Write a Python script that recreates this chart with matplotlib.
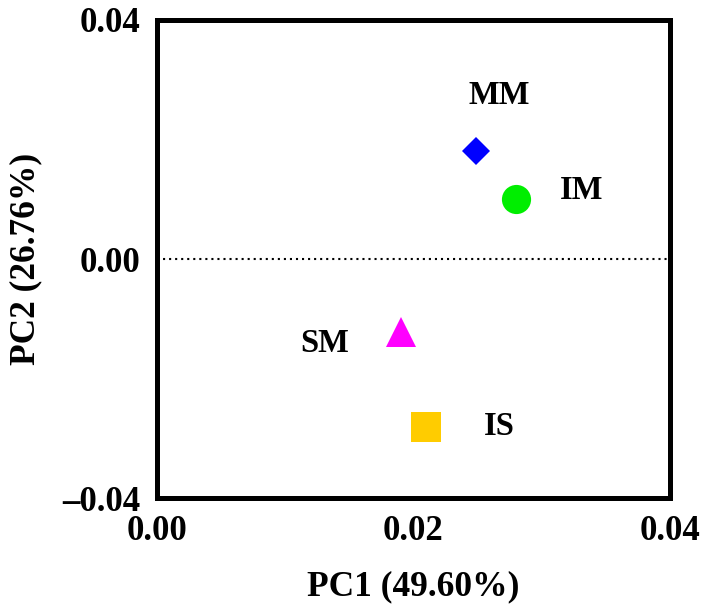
import matplotlib
matplotlib.use("Agg")
import matplotlib.pyplot as plt

groups = ["MM", "IM", "SM", "IS"]
pc1 = [0.0249, 0.0280, 0.0190, 0.0210]
pc2 = [0.0180, 0.0100, -0.0122, -0.0281]
markers = ["D", "o", "^", "s"]
colors = ["#0000FF", "#00EE00", "#FF00FF", "#FFCC00"]
sizes = [14, 21, 21, 21]
label_x = [0.0267, 0.0331, 0.0131, 0.0267]
label_y = [0.0273, 0.0115, -0.0142, -0.0280]
xticks = [0.00, 0.02, 0.04]
yticks = [-0.04, 0.00, 0.04]
xtick_labels = ["0.00", "0.02", "0.04"]
ytick_labels = ["\u20130.04", "0.00", "0.04"]

plt.rcParams['font.family'] = ['Liberation Serif', 'DejaVu Serif']
plt.rcParams['font.weight'] = 'bold'

fig = plt.figure(figsize=(7.09, 6.06), dpi=100)
ax = fig.add_axes([0.2214, 0.1782, 0.7236, 0.7888])

ax.axhline(0, color='black', lw=1.5, linestyle=(0, (1, 1.9)), zorder=1)

for x, y, m, c, s in zip(pc1, pc2, markers, colors, sizes):
    ax.plot([x], [y], marker=m, color=c, markersize=s, linestyle='none',
            markeredgewidth=0, zorder=3)

for g, tx, ty in zip(groups, label_x, label_y):
    ax.text(tx, ty, g, ha='center', va='center', fontsize=23.5, fontweight='bold')

ax.set_xlim(0, 0.04)
ax.set_ylim(-0.04, 0.04)
ax.set_xticks(xticks)
ax.set_xticklabels(xtick_labels)
ax.set_yticks(yticks)
ax.set_yticklabels(ytick_labels)
ax.tick_params(length=0, pad=12, labelsize=25)
for lab in ax.get_xticklabels() + ax.get_yticklabels():
    lab.set_fontweight('bold')

for sp in ax.spines.values():
    sp.set_linewidth(3.6)

ax.set_xlabel("PC1 (49.60%)", fontsize=25.5, fontweight='bold', labelpad=16)
ax.set_ylabel("PC2 (26.76%)", fontsize=25.5, fontweight='bold', labelpad=14)

fig.savefig("out.png", dpi=100)
